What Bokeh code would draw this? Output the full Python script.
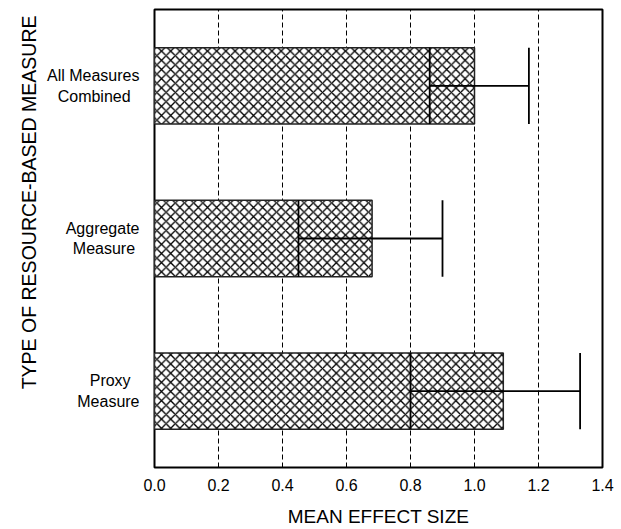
from bokeh.plotting import figure
from bokeh.models import FactorRange, Range1d, FixedTicker, Title
from bokeh.transform import dodge
from bokeh.embed import file_html
from bokeh.resources import INLINE

NB = "\u00a0"
# Data (bottom to top)
categories = ["Proxy" + NB * 2 + "\nMeasure",
              "Aggregate\nMeasure" + NB,
              "All Measures\nCombined" + NB * 2]
mean_effect = [1.09, 0.68, 1.00]
lower_bound = [0.80, 0.45, 0.86]
upper_bound = [1.33, 0.90, 1.17]
x_ticks = [0.0, 0.2, 0.4, 0.6, 0.8, 1.0, 1.2, 1.4]
x_title = "MEAN EFFECT SIZE"
y_title = "TYPE OF RESOURCE-BASED MEASURE"

FONT = "Liberation Sans"

p = figure(width=621, height=529, output_backend="svg", toolbar_location=None,
           y_range=FactorRange(*categories, range_padding=0),
           x_range=Range1d(0, 1.4),
           min_border_left=154, min_border_right=19, min_border_top=9, min_border_bottom=49)
p.background_fill_color = "white"
p.border_fill_color = "white"
p.outline_line_color = "black"
p.outline_line_width = 2

# grid
p.ygrid.grid_line_color = None
p.xgrid.ticker = FixedTicker(ticks=x_ticks[1:-1])
p.xgrid.grid_line_color = "black"
p.xgrid.grid_line_dash = "5 3"
p.xgrid.grid_line_width = 1

# axes
p.xaxis.ticker = FixedTicker(ticks=x_ticks)
p.xaxis.major_label_overrides = {t: f"{t:.1f}" for t in x_ticks}
p.xaxis.axis_line_color = None
p.xaxis.major_tick_line_color = None
p.xaxis.minor_tick_line_color = None
p.xaxis.major_label_text_font = FONT
p.xaxis.major_label_text_font_size = "16px"
p.xaxis.major_label_text_color = "black"
p.xaxis.major_label_standoff = 5
p.xaxis.axis_label = x_title
p.xaxis.axis_label_text_font = FONT
p.xaxis.axis_label_text_font_size = "19px"
p.xaxis.axis_label_text_font_style = "normal"
p.xaxis.axis_label_text_color = "black"
p.xaxis.axis_label_standoff = 12

p.yaxis.axis_line_color = None
p.yaxis.major_tick_line_color = None
p.yaxis.minor_tick_line_color = None
p.yaxis.major_label_text_font = FONT
p.yaxis.major_label_text_font_size = "16px"
p.yaxis.major_label_text_color = "black"
p.yaxis.major_label_standoff = 9

src = dict(cat=categories, mean=mean_effect, lo=lower_bound, hi=upper_bound)

p.hbar(y="cat", left=0, right="mean", height=0.5, source=src,
       fill_color="white", line_color="#222222", line_width=1.5,
       hatch_pattern="diagonal_cross", hatch_color="black",
       hatch_scale=9.2, hatch_weight=1.3)

# error bars
p.segment(x0="lo", y0="cat", x1="hi", y1="cat", source=src,
          line_color="black", line_width=1.8)
p.segment(x0="lo", y0=dodge("cat", -0.25, range=p.y_range),
          x1="lo", y1=dodge("cat", 0.25, range=p.y_range), source=src,
          line_color="black", line_width=1.8)
p.segment(x0="hi", y0=dodge("cat", -0.25, range=p.y_range),
          x1="hi", y1=dodge("cat", 0.25, range=p.y_range), source=src,
          line_color="black", line_width=1.8)

# y title (placed towards the top as in the reference)
p.add_layout(Title(text=y_title, align="right", offset=6,
                   text_font=FONT, text_font_size="19.5px",
                   text_font_style="normal", text_color="black"), "left")

open("out.html", "w").write(file_html(p, INLINE))
